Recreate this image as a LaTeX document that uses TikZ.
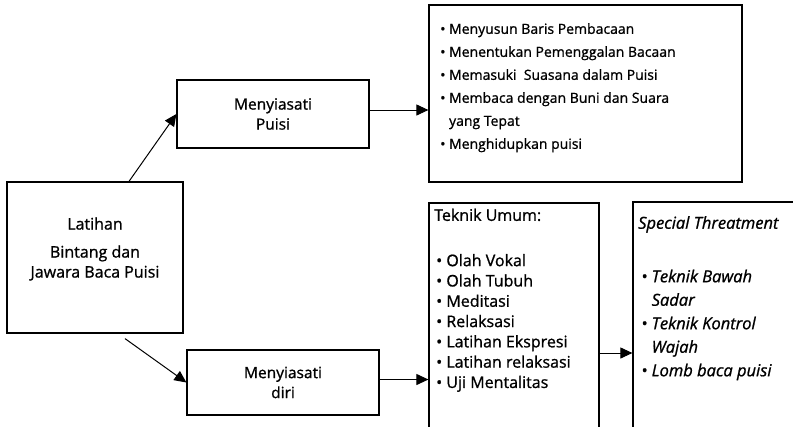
\documentclass[tikz,border=0pt]{standalone}
\usepackage{fontspec}
\setmainfont{Open Sans}[FakeBold=1]
\usetikzlibrary{arrows.meta}

\begin{document}
\begin{tikzpicture}[x=1pt,y=-1pt,
  kotak/.style={draw,line width=1.2pt,inner sep=0pt,align=center,font=\fontsize{15.5}{20}\selectfont},
  isi/.style={inner sep=0pt,anchor=north west,align=left},
  panah/.style={line width=1pt,-{Triangle[length=12pt,width=11pt]}}]
\useasboundingbox (0,0) rectangle (793,426);
\clip (0,0) rectangle (793,426);
% kotak utama
\node[kotak,minimum width=176pt,minimum height=151pt] (latihan) at (95,257.5) {};
\node[align=center,font=\fontsize{16}{20}\selectfont] (judul) at (95,249) {Latihan\\[8pt]Bintang dan\\Jawara Baca Puisi};
\node[kotak,minimum width=192pt,minimum height=68pt] (puisi) at (273,114) {Menyiasati\\Puisi};
\node[kotak,minimum width=192pt,minimum height=65pt] (diri) at (283,382.5) {Menyiasati\\diri};
% kotak daftar
\node[kotak,minimum width=313pt,minimum height=177pt] (baca) at (585.5,93.5) {};
\node[kotak,minimum width=170pt,minimum height=250pt] (umum) at (514,328) {};
\node[kotak,minimum width=200pt,minimum height=250pt] (khusus) at (733,327) {};
\node[isi,font=\fontsize{14}{23}\selectfont] (bacateks) at (440,23) {%
\textbullet~Menyusun Baris Pembacaan\\
\textbullet~Menentukan Pemenggalan Bacaan\\
\textbullet~Memasuki~ Suasana dalam Puisi\\
\textbullet~Membaca dengan Buni dan Suara\\
\phantom{\textbullet~}yang Tepat\\
\textbullet~Menghidupkan puisi};
\node[isi,font=\fontsize{16}{20.3}\selectfont] (umumteks) at (434,208.5) {%
Teknik Umum:\\[25pt]
\hspace{2pt}\textbullet~Olah Vokal\\
\hspace{2pt}\textbullet~Olah Tubuh\\
\hspace{2pt}\textbullet~Meditasi\\
\hspace{2pt}\textbullet~Relaksasi\\
\hspace{2pt}\textbullet~Latihan Ekspresi\\
\hspace{2pt}\textbullet~Latihan relaksasi\\
\hspace{2pt}\textbullet~Uji Mentalitas};
\node[isi,font=\fontsize{16.5}{23.5}\selectfont\itshape] (khususteks) at (638,216) {%
Special Threatment\\[30pt]
\hspace{3pt}\textbullet~Teknik Bawah\\
\hspace{3pt}\phantom{\textbullet~}Sadar\\
\hspace{3pt}\textbullet~Teknik Kontrol\\
\hspace{3pt}\phantom{\textbullet~}Wajah\\
\hspace{3pt}\textbullet~Lomb baca puisi};
% panah
\draw[panah] ([xshift=34pt]latihan.north) -- (puisi.west);
\draw[panah] ([xshift=30pt,yshift=-5pt]latihan.south) -- (diri.west);
\draw[panah] ([yshift=4pt]puisi.east) -- ([yshift=4pt]puisi.east -| baca.west);
\draw[panah] ([yshift=3pt]diri.east) -- ([yshift=3pt]diri.east -| umum.west);
\draw[panah] ([yshift=-25pt]umum.east) -- ([yshift=-25pt]umum.east -| khusus.west);
\end{tikzpicture}
\end{document}
